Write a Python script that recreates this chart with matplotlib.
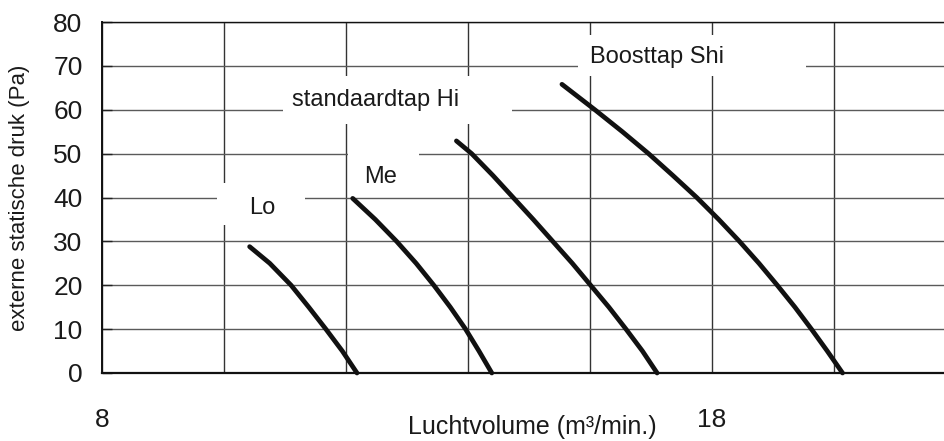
import matplotlib.pyplot as plt
from matplotlib.patches import Rectangle

plt.rcParams['font.family'] = ['Liberation Sans', 'DejaVu Sans']

# fan curves: airflow (m3/min) vs external static pressure (Pa)
lo_x = [10.42, 10.75, 11.10, 11.39, 11.67, 11.94, 12.18]
lo_y = [28.8, 25.0, 20, 15, 10, 5, 0]

me_x = [12.11, 12.48, 12.83, 13.15, 13.44, 13.71, 13.96, 14.18, 14.39]
me_y = [39.8, 35, 30, 25, 20, 15, 10, 5, 0]

hi_x = [13.81, 14.06, 14.41, 14.74, 15.07, 15.39, 15.71, 16.01, 16.31, 16.59, 16.86, 17.10]
hi_y = [52.9, 50, 45, 40, 35, 30, 25, 20, 15, 10, 5, 0]

shi_x = [15.54, 16.08, 16.53, 16.96, 17.36, 17.75, 18.11, 18.45, 18.77, 19.07,
         19.36, 19.63, 19.89, 20.14]
shi_y = [65.8, 60, 55, 50, 45, 40, 35, 30, 25, 20, 15, 10, 5, 0]

curve_labels = ['Lo', 'Me', 'standaardtap Hi', 'Boosttap Shi']
label_x = [10.62, 12.56, 12.48, 17.10]
label_y = [36.2, 43.2, 60.9, 70.6]

# white patches behind the labels (they cut the grid lines)
box_x0 = [9.89, 12.03, 10.97, 15.80]
box_x1 = [11.33, 13.20, 14.72, 19.54]
box_y0 = [33.7, 41.5, 56.75, 67.7]
box_y1 = [43.3, 51.5, 67.7, 77.0]

x_ticks = [8, 10, 12, 14, 16, 18, 20]
x_ticklabels = ['8', '', '', '', '', '18', '']
y_ticks = [0, 10, 20, 30, 40, 50, 60, 70, 80]

fig = plt.figure(figsize=(9.44, 4.41), dpi=100)
ax = fig.add_axes([102 / 944, 68 / 441, 842 / 944, 351 / 441])

ax.set_xlim(8, 8 + 842 / 61)
ax.set_ylim(0, 80)

ax.set_xticks(x_ticks)
ax.set_xticklabels(x_ticklabels)
ax.set_yticks(y_ticks)
ax.tick_params(axis='x', length=0, pad=25, labelsize=19, labelcolor='#1a1a1a')
ax.tick_params(axis='y', direction='in', length=7, width=1, color='#222222',
               pad=14, labelsize=19, labelcolor='#1a1a1a')

ax.set_axisbelow(True)
ax.grid(axis='x', color='#333333', linewidth=1.0)
ax.grid(axis='y', color='#5a5a5a', linewidth=1.0)

for s in ['left', 'bottom', 'top']:
    ax.spines[s].set_color('#111111')
ax.spines['left'].set_linewidth(1.4)
ax.spines['bottom'].set_linewidth(1.6)
ax.spines['top'].set_linewidth(1.0)
ax.spines['right'].set_visible(False)

for i in range(len(curve_labels)):
    ax.add_patch(Rectangle((box_x0[i], box_y0[i]), box_x1[i] - box_x0[i],
                           box_y1[i] - box_y0[i], facecolor='white',
                           edgecolor='none', zorder=1))
    ax.text(label_x[i], label_y[i], curve_labels[i], fontsize=17,
            color='#1a1a1a', ha='center', va='baseline', zorder=3)

for xs, ys in [(lo_x, lo_y), (me_x, me_y), (hi_x, hi_y), (shi_x, shi_y)]:
    ax.plot(xs, ys, color='#111111', linewidth=3.4, solid_capstyle='round',
            solid_joinstyle='round', zorder=2, clip_on=False)

ax.set_ylabel('externe statische druk (Pa)', fontsize=16, color='#1a1a1a', va='center')
ax.yaxis.set_label_coords(-0.0974, 0.5)
ax.set_xlabel('Luchtvolume (m³/min.)', fontsize=18, color='#1a1a1a', va='center')
ax.xaxis.set_label_coords(0.511, -0.154)

fig.savefig('out.png', dpi=100)
